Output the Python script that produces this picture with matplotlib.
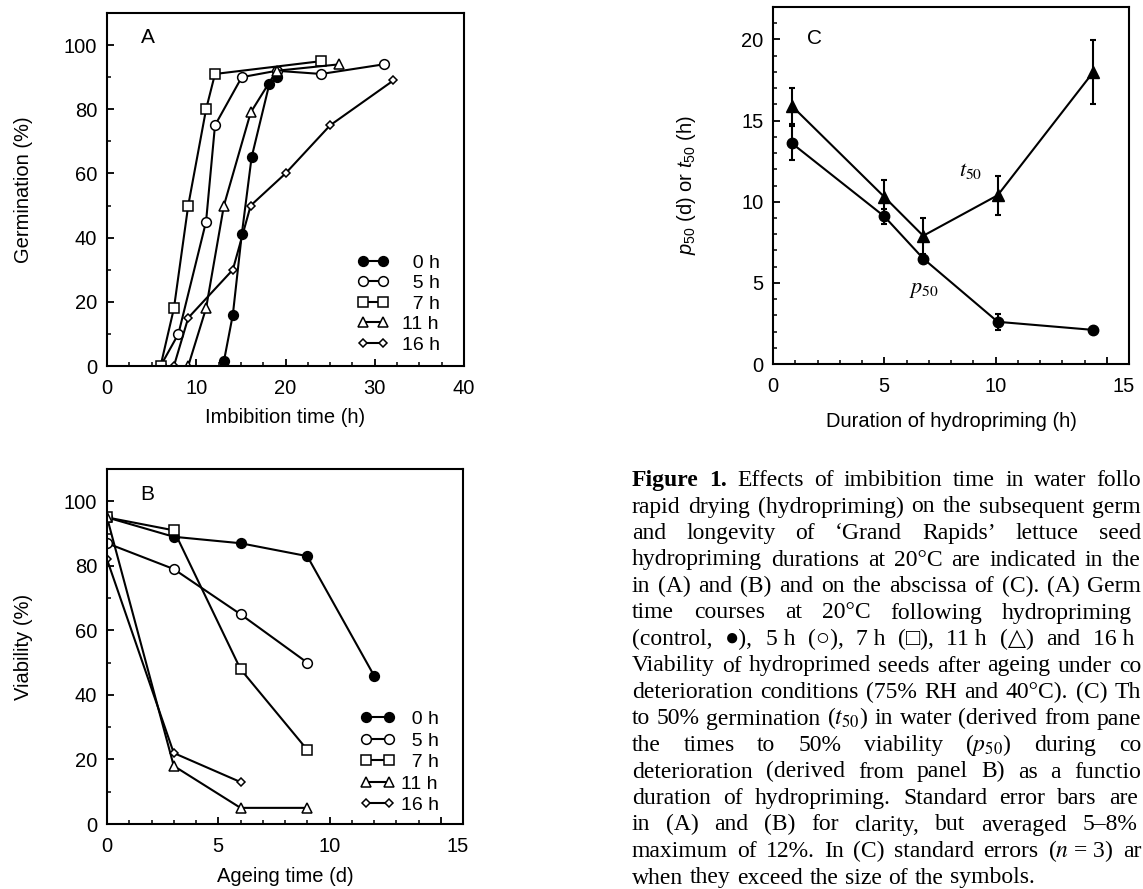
import matplotlib
matplotlib.use('Agg')
import matplotlib.pyplot as plt
from matplotlib.ticker import MultipleLocator
from matplotlib.transforms import ScaledTranslation

plt.rcParams['font.family'] = ['Liberation Sans', 'DejaVu Sans']
plt.rcParams['mathtext.fontset'] = 'custom'
plt.rcParams['mathtext.rm'] = 'Liberation Sans'
plt.rcParams['mathtext.it'] = 'Liberation Sans:italic'
plt.rcParams['axes.linewidth'] = 1.5

# ---- panel A: germination (%) against imbibition time (h)
germ_0h_t = [13.1, 14.1, 15.1, 16.2, 18.2, 19.1]
germ_0h = [1.5, 16, 41, 65, 88, 90]
germ_5h_t = [6.0, 8.0, 11.1, 12.1, 15.1, 19.0, 24.0, 31.0]
germ_5h = [0, 10, 45, 75, 90, 92, 91, 94]
germ_7h_t = [6.0, 7.5, 9.1, 11.1, 12.1, 24.0]
germ_7h = [0, 18, 50, 80, 91, 95]
germ_11h_t = [9.1, 11.1, 13.1, 16.1, 19.0, 26.0]
germ_11h = [0, 18, 50, 79, 92, 94]
germ_16h_t = [7.5, 9.1, 14.1, 16.1, 20.0, 25.0, 32.1]
germ_16h = [0, 15, 30, 50, 60, 75, 89]

# ---- panel B: viability (%) against ageing time (d)
age_days = [0, 3, 6, 9, 12]
viab_0h = [95, 89, 87, 83, 46]
viab_5h = [87, 79, 65, 50]
viab_7h = [95, 91, 48, 23]
viab_11h = [95, 18, 5, 5]
viab_16h = [82, 22, 13]

# ---- panel C: t50 / p50 against duration of hydropriming (h)
prime_h = [0.85, 5.0, 6.75, 10.1, 14.4]
t50 = [15.9, 10.3, 7.9, 10.4, 18.0]
t50_se = [1.1, 1.05, 1.1, 1.2, 1.95]
p50 = [13.6, 9.1, 6.5, 2.6, 2.1]
p50_se = [1.05, 0.45, 0, 0.5, 0]

legend_a = ['  0 h', '  5 h', '  7 h', '11 h', '16 h']
legend_b = ['  0 h', '  5 h', '  7 h', '11 h', '16 h']

# caption as it shows on the page (the column runs past the right edge)
caption_lines = [
    "Figure 1. Effects of imbibition time in water follo",
    "rapid drying (hydropriming) on the subsequent germ",
    "and longevity of \u2018Grand Rapids\u2019 lettuce seed",
    "hydropriming durations at 20\u00b0C are indicated in the",
    "in (A) and (B) and on the abscissa of (C). (A) Germ",
    "time courses at 20\u00b0C following hydropriming",
    "(control, \u25cf), 5\u00a0h (\u25cb), 7\u00a0h (\u25a1), 11\u00a0h (\u25b3) and 16\u00a0h",
    "Viability of hydroprimed seeds after ageing under co",
    "deterioration conditions (75% RH and 40\u00b0C). (C) Th",
    "to 50% germination ($t_{50}$) in water (derived from pane",
    "the times to 50% viability ($p_{50}$) during co",
    "deterioration (derived from panel B) as a functio",
    "duration of hydropriming. Standard error bars are",
    "in (A) and (B) for clarity, but averaged 5\u20138%",
    "maximum of 12%. In (C) standard errors ($n$\u00a0=\u00a03) ar",
    "when they exceed the size of the symbols.",
]
caption_right = [1141, 1141, 1141, 1141, 1141, 1132, 1134, 1141,
                 1141, 1141, 1141, 1141, 1138, 1137, 1141, 1035]

styles = [dict(marker='o', mfc='black', ms=7),
          dict(marker='o', mfc='white', ms=7),
          dict(marker='s', mfc='white', ms=7),
          dict(marker='^', mfc='white', ms=7.5),
          dict(marker='D', mfc='white', ms=4.5)]

W, H = 1143, 889
fig = plt.figure(figsize=(W / 100, H / 100), dpi=100)


def box(left, top, right, bottom):
    return fig.add_axes([left / W, 1 - bottom / H, (right - left) / W, (bottom - top) / H])


axA = box(107, 13, 464, 366)
axB = box(107, 469, 463, 824)
axC = box(773, 7, 1129, 364)

# panel A
germ_series = [(germ_0h_t, germ_0h), (germ_5h_t, germ_5h), (germ_7h_t, germ_7h),
               (germ_11h_t, germ_11h), (germ_16h_t, germ_16h)]
for (t, g), st, lab in zip(germ_series, styles, legend_a):
    axA.plot(t, g, color='black', lw=1.5, mec='black', mew=1.1, label=lab, **st)
axA.set_xlim(0, 40)
axA.set_ylim(0, 110)
axA.xaxis.set_major_locator(MultipleLocator(10))
axA.xaxis.set_minor_locator(MultipleLocator(2.5))
axA.yaxis.set_major_locator(MultipleLocator(20))
axA.yaxis.set_minor_locator(MultipleLocator(10))
axA.set_xlabel('Imbibition time (h)', fontsize=14.5)
axA.set_ylabel('Germination (%)', fontsize=14.5)
axA.legend(loc='lower right', bbox_to_anchor=(0.933, 0.035), frameon=False, numpoints=2,
           handlelength=1.6, handletextpad=0.7, labelspacing=0.15, borderpad=0,
           borderaxespad=0, fontsize=14)
axA.text(0.115, 0.93, 'A', transform=axA.transAxes, fontsize=15, va='center', ha='center')

# panel B
viab_series = [viab_0h, viab_5h, viab_7h, viab_11h, viab_16h]
for v, st, lab in zip(viab_series, styles, legend_b):
    axB.plot(age_days[:len(v)], v, color='black', lw=1.5, mec='black', mew=1.1, label=lab, **st)
axB.set_xlim(0, 16)
axB.set_ylim(0, 110)
axB.set_xticks([0, 5, 10, 15])
axB.xaxis.set_minor_locator(MultipleLocator(1))
axB.yaxis.set_major_locator(MultipleLocator(20))
axB.yaxis.set_minor_locator(MultipleLocator(10))
axB.set_xlabel('Ageing time (d)', fontsize=14.5)
axB.set_ylabel('Viability (%)', fontsize=14.5)
axB.legend(loc='lower right', bbox_to_anchor=(0.933, 0.028), frameon=False, numpoints=2,
           handlelength=1.8, handletextpad=0.3, labelspacing=0.2, borderpad=0,
           borderaxespad=0, fontsize=14)
axB.text(0.112, 0.927, 'B', transform=axB.transAxes, fontsize=15, va='center', ha='center')

# panel C
axC.errorbar(prime_h, t50, yerr=t50_se, fmt='-^', color='black', ms=8, lw=1.5,
             elinewidth=1.5, capsize=2.5, capthick=1.5)
axC.errorbar(prime_h, p50, yerr=p50_se, fmt='-o', color='black', ms=7.5, lw=1.5,
             elinewidth=1.5, capsize=2.5, capthick=1.5)
axC.set_xlim(0, 16)
axC.set_ylim(0, 22)
axC.set_xticks([0, 5, 10, 15])
axC.xaxis.set_minor_locator(MultipleLocator(1))
axC.yaxis.set_major_locator(MultipleLocator(5))
axC.yaxis.set_minor_locator(MultipleLocator(1))
axC.set_xlabel('Duration of hydropriming (h)', fontsize=14.5)
axC.set_ylabel(r'$p_{50}$ (d) or $t_{50}$ (h)', fontsize=14.5)
axC.text(0.116, 0.911, 'C', transform=axC.transAxes, fontsize=15, va='center', ha='center')
axC.text(8.9, 11.9, r'$t_{50}$', fontsize=16, math_fontfamily='stix', ha='center', va='center')
axC.text(6.8, 4.6, r'$p_{50}$', fontsize=16, math_fontfamily='stix', ha='center', va='center')

for ax in (axA, axB, axC):
    ax.tick_params(which='both', direction='in', top=False, right=False, labelsize=14.5)
    ax.tick_params(which='major', length=5, width=1.3)
    ax.tick_params(which='minor', length=3, width=1.1)
    ax.tick_params(axis='x', pad=9)
    ax.tick_params(axis='y', pad=7)
    ax.yaxis.set_label_coords(-0.207, 0.5)

axA.xaxis.set_label_coords(0.5, -0.119)
axB.xaxis.set_label_coords(0.5, -0.121)
axC.xaxis.set_label_coords(0.5, -0.134)
axC.yaxis.set_label_coords(-0.21, 0.5)

# the last x tick label of B and C sits at the right edge of the frame
for ax in (axB, axC):
    lab = ax.get_xticklabels()[-1]
    lab.set_transform(lab.get_transform() + ScaledTranslation(0.17, 0, fig.dpi_scale_trans))

# justified caption
fig.canvas.draw()
renderer = fig.canvas.get_renderer()
x0 = 632
for i, line in enumerate(caption_lines):
    words = line.split(' ')
    y = 486 + 26.5 * i
    texts = []
    for j, w in enumerate(words):
        weight = 'bold' if (i == 0 and j < 2) else 'normal'
        t = fig.text(0, 1 - y / H, w, fontsize=17, family=['Liberation Serif', 'DejaVu Sans'],
                     fontweight=weight, va='baseline', ha='left', math_fontfamily='stix')
        texts.append(t)
    widths = [t.get_window_extent(renderer).width for t in texts]
    gap = (caption_right[i] - x0 - sum(widths)) / (len(words) - 1)
    pos = x0
    for t, w in zip(texts, widths):
        t.set_x(pos / W)
        pos += w + gap

fig.savefig('out.png', dpi=100)
